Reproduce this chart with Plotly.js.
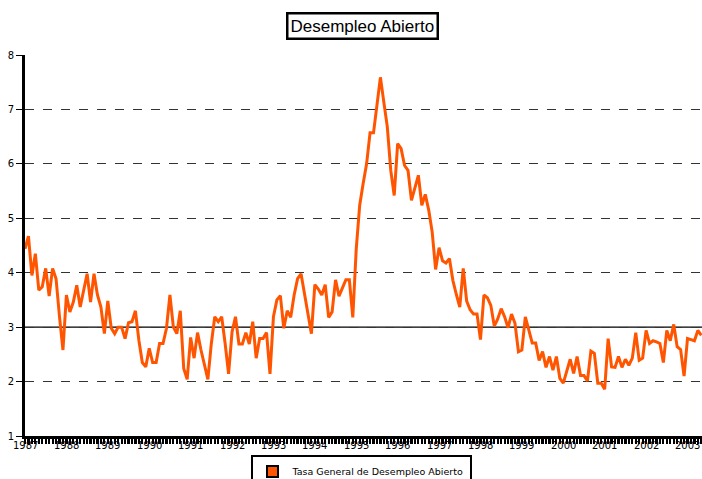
<!DOCTYPE html>
<html>
<head>
<meta charset="utf-8">
<script src="https://cdn.plot.ly/plotly-3.0.1.min.js"></script>
<style>html,body{margin:0;padding:0;background:#fff;}#chart{width:702px;height:479px;}</style>
</head>
<body>
<div id="chart"></div>
<script>
// Monthly series, Jan 1987 onwards (%)
const years = ['1987','1988','1989','1990','1991','1992','1993','1994','1995','1996','1997','1998','1999','2000','2001','2002','2003'];
const tasa1987 = [4.44, 4.67, 3.95, 4.35, 3.68, 3.74, 4.08, 3.57, 4.08, 3.89, 3.19, 2.58];
const tasa1988 = [3.59, 3.28, 3.46, 3.77, 3.37, 3.68, 3.98, 3.46, 3.98, 3.59, 3.37, 2.88];
const tasa1989 = [3.48, 2.98, 2.88, 3.00, 3.00, 2.79, 3.08, 3.10, 3.30, 2.76, 2.35, 2.27];
const tasa1990 = [2.61, 2.35, 2.35, 2.70, 2.70, 2.98, 3.59, 3.00, 2.88, 3.30, 2.24, 2.04];
const tasa1991 = [2.81, 2.43, 2.90, 2.58, 2.30, 2.04, 2.70, 3.19, 3.10, 3.19, 2.70, 2.14];
const tasa1992 = [2.91, 3.19, 2.69, 2.69, 2.90, 2.69, 3.10, 2.43, 2.79, 2.79, 2.90, 2.14];
const tasa1993 = [3.19, 3.50, 3.58, 2.98, 3.30, 3.18, 3.59, 3.89, 3.98, 3.60, 3.19, 2.88];
const tasa1994 = [3.78, 3.70, 3.59, 3.78, 3.18, 3.28, 3.87, 3.57, 3.72, 3.87, 3.87, 3.18];
const tasa1995 = [4.44, 5.24, 5.64, 6.00, 6.57, 6.57, 7.08, 7.59, 7.13, 6.68, 5.88, 5.42];
const tasa1996 = [6.37, 6.28, 5.97, 5.88, 5.33, 5.56, 5.79, 5.24, 5.44, 5.15, 4.75, 4.06];
const tasa1997 = [4.46, 4.22, 4.18, 4.26, 3.86, 3.60, 3.37, 4.08, 3.48, 3.32, 3.24, 3.24];
const tasa1998 = [2.77, 3.59, 3.54, 3.40, 3.02, 3.15, 3.34, 3.19, 2.99, 3.24, 3.07, 2.55];
const tasa1999 = [2.58, 3.19, 2.94, 2.71, 2.71, 2.39, 2.55, 2.26, 2.46, 2.21, 2.46, 2.06];
const tasa2000 = [1.97, 2.18, 2.41, 2.15, 2.46, 2.11, 2.11, 2.01, 2.56, 2.52, 1.97, 1.97];
const tasa2001 = [1.86, 2.79, 2.27, 2.26, 2.46, 2.26, 2.41, 2.30, 2.43, 2.90, 2.39, 2.43];
const tasa2002 = [2.94, 2.70, 2.75, 2.73, 2.70, 2.35, 2.94, 2.75, 3.05, 2.64, 2.59, 2.10];
const tasa2003 = [2.79, 2.77, 2.75, 2.94, 2.85];
const yTicks = [1, 2, 3, 4, 5, 6, 7, 8];
const refLine = 3;
const seriesName = 'Tasa General de Desempleo Abierto';
const chartTitle = 'Desempleo Abierto';

const values = [].concat(tasa1987, tasa1988, tasa1989, tasa1990, tasa1991, tasa1992, tasa1993,
  tasa1994, tasa1995, tasa1996, tasa1997, tasa1998, tasa1999, tasa2000, tasa2001, tasa2002, tasa2003);
const monthIdx = values.map((v, i) => i);
const xRange = [0, values.length - 0.8];

const orange = '#ff5500';
const traces = [
  {x: monthIdx, y: values, type: 'scatter', mode: 'lines', showlegend: false,
   line: {color: orange, width: 3}, hoverinfo: 'skip'},
  {x: [null], y: [null], type: 'scatter', mode: 'markers', name: seriesName,
   marker: {symbol: 'square', size: 11, color: orange, line: {color: '#000', width: 2}}}
];

// year labels placed on the January of each year through the x scale
const yearLabels = years.map((y, i) => ({
  text: y, xref: 'x', yref: 'paper', x: i * 12, y: 0, yshift: -2,
  xanchor: 'center', yanchor: 'top', showarrow: false,
  font: {size: 10, family: '"DejaVu Sans", sans-serif', color: '#000'}
}));

const layout = {
  width: 702, height: 479,
  margin: {l: 25, r: 0, t: 55, b: 43, autoexpand: false},
  paper_bgcolor: '#fff', plot_bgcolor: '#fff',
  font: {family: '"DejaVu Sans", sans-serif', size: 10, color: '#000'},
  xaxis: {
    range: xRange,
    tickmode: 'linear', tick0: 0, dtick: 1,
    ticks: 'outside', ticklen: 5, tickwidth: 2.2, tickcolor: '#000',
    showticklabels: false,
    showline: true, linecolor: '#000', linewidth: 3,
    showgrid: false, zeroline: false,
    fixedrange: true
  },
  yaxis: {
    range: [1, 8], tickmode: 'array', tickvals: yTicks,
    ticks: 'outside', ticklen: 6, tickwidth: 1, tickcolor: '#000',
    showline: true, linecolor: '#000', linewidth: 3,
    showgrid: true, gridcolor: '#333', gridwidth: 1, griddash: 'dash',
    zeroline: false,
    tickfont: {size: 10, family: '"DejaVu Sans", sans-serif'},
    fixedrange: true
  },
  shapes: [
    {type: 'line', xref: 'paper', yref: 'y', x0: 0, x1: 1, y0: refLine, y1: refLine,
     line: {color: '#000', width: 1.2}, layer: 'below'}
  ],
  annotations: [
    {text: chartTitle, xref: 'paper', yref: 'paper', x: (362 - 25) / 677, y: 1 + (55 - 26) / 381,
     xanchor: 'center', yanchor: 'middle', showarrow: false,
     font: {family: '"Liberation Sans Narrow", "Liberation Sans", sans-serif', size: 17, color: '#000'},
     bordercolor: '#000', borderwidth: 2.5, borderpad: 2, bgcolor: '#fff'}
  ].concat(yearLabels),
  legend: {
    orientation: 'h', x: (361 - 25) / 677, xanchor: 'center',
    yref: 'container', y: 1 - 455 / 479, yanchor: 'top',
    bordercolor: '#000', borderwidth: 2, bgcolor: '#fff',
    font: {family: '"DejaVu Sans", sans-serif', size: 9.5, color: '#000'},
    itemwidth: 30
  }
};

Plotly.newPlot('chart', traces, layout, {displayModeBar: false, staticPlot: true});
</script>
</body>
</html>
